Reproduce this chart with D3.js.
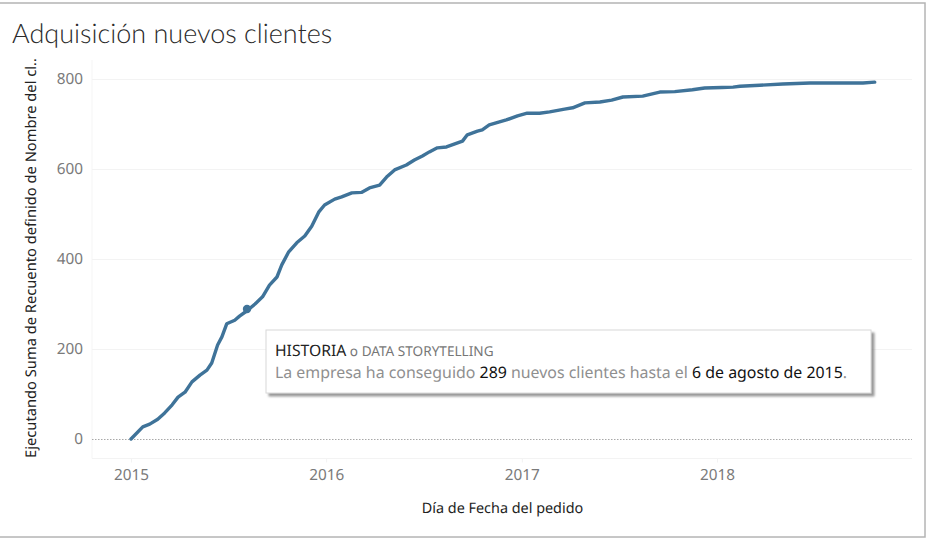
<!DOCTYPE html>
<html><head><meta charset="utf-8">
<script src="https://cdn.jsdelivr.net/npm/d3@7"></script>
<style>html,body{margin:0;padding:0;background:#fff;overflow:hidden}svg{display:block}text{font-family:"Noto Sans",sans-serif;text-rendering:geometricPrecision}</style>
</head><body><svg id="c" width="930" height="539"></svg>
<script>
const titleText = "Adquisición nuevos clientes";
const yTitle = "Ejecutando Suma de Recuento definido de Nombre del cl..";
const xTitle = "Día de Fecha del pedido";
const yTicks = [0, 200, 400, 600, 800];
const xTickYears = [2015, 2016, 2017, 2018];
const dates = ["2015-01-01","2015-01-23","2015-02-05","2015-02-20","2015-03-05","2015-03-19","2015-03-30","2015-04-12","2015-04-25","2015-05-10","2015-05-23","2015-06-01","2015-06-12","2015-06-20","2015-06-29","2015-07-14","2015-07-23","2015-08-06","2015-08-21","2015-09-04","2015-09-17","2015-10-01","2015-10-10","2015-10-23","2015-11-07","2015-11-22","2015-12-05","2015-12-18","2015-12-29","2016-01-17","2016-01-30","2016-02-18","2016-03-07","2016-03-22","2016-04-10","2016-04-23","2016-05-08","2016-05-30","2016-06-14","2016-06-29","2016-07-12","2016-07-27","2016-08-13","2016-09-12","2016-09-21","2016-10-10","2016-10-19","2016-11-01","2016-12-03","2016-12-24","2017-01-11","2017-02-03","2017-02-22","2017-03-22","2017-04-06","2017-04-29","2017-05-27","2017-06-18","2017-07-09","2017-08-15","2017-09-16","2017-10-14","2017-11-16","2017-12-09","2018-01-10","2018-01-31","2018-02-13","2018-03-22","2018-05-04","2018-06-24","2018-08-19","2018-10-01","2018-10-23"];
const values = [0,27,33,44,58,76,93,104,127,142,153,169,209,227,256,264,273,285,300,316,342,360,387,416,436,451,473,504,520,533,538,547,548,558,564,582,598,609,620,629,638,647,649,662,676,684,687,698,709,718,724,724,727,733,736,747,749,753,760,762,771,772,776,780,781,782,784,786,789,791,791,791,793];
const markDate = "2015-08-06";
const markValue = 289;
const noteHead = [["HISTORIA","#222",15.7],[" o ","#777",13.6],["DATA STORYTELLING","#777",13.6]];
const noteBody = [["La empresa ha conseguido ","#8f8f8f"],["289","#111"],[" nuevos clientes hasta el ","#8f8f8f"],["6 de agosto de 2015","#111"],[".","#8f8f8f"]];

const svg = d3.select("#c");
const parse = d3.utcParse("%Y-%m-%d");
const x = d3.scaleUtc().domain([parse("2015-01-01"), parse("2018-01-01")]).range([131, 717]);
const y = d3.scaleLinear().domain([0, 800]).range([439, 79]);

// frame
svg.append("rect").attr("x",-2).attr("y",3).attr("width",927).attr("height",534)
  .attr("fill","#fff").attr("stroke","#b4b4b4").attr("stroke-width",1.5);

// pane
const L=92,R=912,T=60,B=458.5;
svg.append("line").attr("x1",L).attr("x2",L).attr("y1",T).attr("y2",B).attr("stroke","#f5f5f5");
svg.append("line").attr("x1",L).attr("x2",R).attr("y1",B).attr("y2",B).attr("stroke","#f3f3f3");

// y axis with grid
const gy = svg.append("g").attr("transform",`translate(${L},0)`)
  .call(d3.axisLeft(y).tickValues(yTicks).tickSize(0).tickPadding(9));
gy.select(".domain").remove();
gy.selectAll("text").attr("font-size",15.3).attr("fill","#7a7a7a").style("font-family",'"Noto Sans",sans-serif');
gy.selectAll(".tick").append("line").attr("x1",0).attr("x2",R-L)
  .attr("stroke",d=>d===0?"#a8a8a8":"#f3f3f3").attr("stroke-width",1)
  .attr("stroke-dasharray",d=>d===0?"1.5 1.5":null);

// x axis
const gx = svg.append("g").attr("transform",`translate(0,${B})`)
  .call(d3.axisBottom(x).tickValues(xTickYears.map(v=>new Date(Date.UTC(v,0,1)))).tickFormat(d3.utcFormat("%Y")).tickSize(4).tickPadding(7));
gx.select(".domain").remove();
gx.selectAll("line").attr("stroke","#f3f3f3");
gx.selectAll("text").attr("font-size",15.3).attr("fill","#7a7a7a").style("font-family",'"Noto Sans",sans-serif');

// axis titles
svg.append("text").attr("transform","translate(36,258) rotate(-90)").attr("text-anchor","middle")
  .attr("font-size",14.7).attr("fill","#222").text(yTitle);
svg.append("text").attr("x",502.5).attr("y",513).attr("text-anchor","middle")
  .attr("font-size",14.4).attr("fill","#222").text(xTitle);

// title
svg.append("text").attr("x",12).attr("y",43).attr("font-size",27).attr("fill","#2a2a2a")
  .style("font-family",'"Lato",sans-serif').style("font-weight",300).text(titleText);

// line
const line = d3.line().x((d,i)=>x(parse(dates[i]))).y(d=>y(d));
svg.append("path").datum(values).attr("fill","none").attr("stroke","#3f7399").attr("stroke-width",3.4)
  .attr("stroke-linejoin","round").attr("stroke-linecap","round").attr("d",line);
svg.append("circle").attr("cx",x(parse(markDate))).attr("cy",y(markValue)).attr("r",4.2).attr("fill","#3f7399");

// annotation
const defs = svg.append("defs");
const f = defs.append("filter").attr("id","sh").attr("x","-5%").attr("y","-20%").attr("width","110%").attr("height","140%");
f.append("feDropShadow").attr("dx",3).attr("dy",3).attr("stdDeviation",1).attr("flood-color","#777").attr("flood-opacity",0.75);
svg.append("rect").attr("x",266).attr("y",330).attr("width",605).attr("height",63)
  .attr("fill","#fff").attr("stroke","#d8d8d8").attr("filter","url(#sh)");
const t1 = svg.append("text").attr("x",275).attr("y",356).style("white-space","pre");
noteHead.forEach(p=>t1.append("tspan").attr("fill",p[1]).attr("font-size",p[2]).text(p[0]));
const t2 = svg.append("text").attr("x",275).attr("y",378).attr("font-size",15.9).style("white-space","pre");
noteBody.forEach(p=>t2.append("tspan").attr("fill",p[1]).text(p[0]));
</script></body></html>
